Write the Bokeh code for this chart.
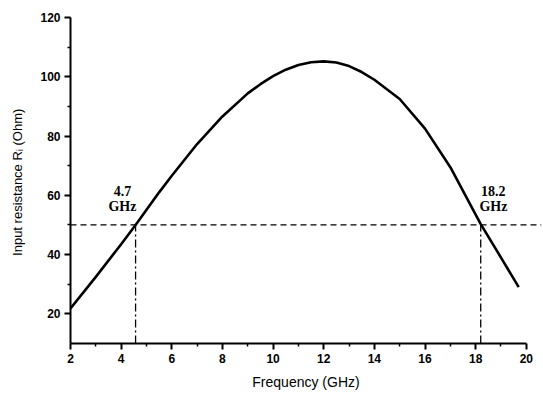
from bokeh.plotting import figure
from bokeh.models import Range1d, FixedTicker, Label
from bokeh.embed import file_html
from bokeh.resources import INLINE

# Data
freq = [2.0, 3.0, 4.0, 4.57, 5.5, 6.0, 7.0, 8.0, 9.0, 9.5, 10.0, 10.5, 11.0,
        11.5, 12.0, 12.5, 13.0, 13.5, 14.0, 15.0, 16.0, 17.0, 18.0, 18.2,
        19.0, 19.7]
resistance = [21.8, 32.5, 43.5, 50.0, 61.0, 66.6, 77.3, 86.6, 94.4, 97.5,
              100.2, 102.4, 104.0, 104.9, 105.2, 104.8, 103.6, 101.6, 99.0,
              92.5, 82.5, 69.5, 53.5, 50.3, 39.0, 29.0]
ref_level = 50.0
f_low = 4.57
f_high = 18.2
label_low = "4.7\nGHz"
label_high = "18.2\nGHz"
x_ticks = [2, 4, 6, 8, 10, 12, 14, 16, 18, 20]
y_ticks = [20, 40, 60, 80, 100, 120]

p = figure(width=543, height=396, output_backend="svg", toolbar_location=None,
           x_range=Range1d(2, 20.6), y_range=Range1d(10, 120))
p.min_border_left = 70
p.min_border_right = 2
p.min_border_top = 17
p.min_border_bottom = 53
p.outline_line_color = None
p.xgrid.visible = False
p.ygrid.visible = False
p.background_fill_color = "white"

# Curve
p.line(freq, resistance, line_color="black", line_width=2.6,
       line_join="round")

# Reference lines
p.line([2, 20.6], [ref_level, ref_level], line_color="black", line_width=1.3,
       line_dash="6 4")
p.line([f_low, f_low], [10, ref_level], line_color="black", line_width=1.3,
       line_dash="8 3 2 3")
p.line([f_high, f_high], [10, ref_level], line_color="black", line_width=1.3,
       line_dash="8 3 2 3")

for fx, txt in [(4.05, label_low), (18.7, label_high)]:
    p.add_layout(Label(x=fx, y=53.6, text=txt, text_align="center",
                       text_baseline="bottom", text_font="Liberation Serif",
                       text_font_style="bold", text_font_size="14px",
                       text_color="black", text_line_height=1.0))

# Axes
for ax in (p.xaxis[0], p.yaxis[0]):
    ax.axis_line_width = 2
    ax.axis_line_color = "black"
    ax.major_tick_line_width = 2
    ax.minor_tick_line_width = 1.5
    ax.major_tick_out = 6
    ax.major_tick_in = 0
    ax.minor_tick_out = 3
    ax.minor_tick_in = 0
    ax.major_label_text_font = "Liberation Sans"
    ax.major_label_text_font_style = "bold"
    ax.major_label_text_font_size = "12px"
    ax.major_label_text_color = "black"
    ax.axis_label_text_font = "Liberation Sans"
    ax.axis_label_text_font_style = "normal"
    ax.axis_label_text_color = "black"

p.xaxis[0].bounds = (2, 20)
p.xaxis[0].ticker = FixedTicker(ticks=x_ticks, minor_ticks=list(range(3, 20, 2)))
p.xaxis[0].axis_label = "Frequency (GHz)"
p.xaxis[0].axis_label_text_font_size = "14px"
p.xaxis[0].axis_label_standoff = 8
p.xaxis[0].major_label_standoff = 4

p.yaxis[0].bounds = (10, 120)
p.yaxis[0].ticker = FixedTicker(ticks=y_ticks, minor_ticks=[30, 50, 70, 90, 110])
p.yaxis[0].axis_label = "Input resistance R\u1d62  (Ohm)"
p.yaxis[0].axis_label_text_font_size = "13px"
p.yaxis[0].axis_label_standoff = 12
p.yaxis[0].major_label_standoff = 4

open("out.html", "w").write(file_html(p, INLINE))
